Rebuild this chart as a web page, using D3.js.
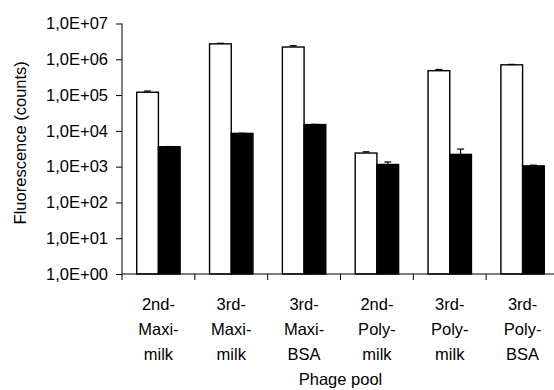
<!DOCTYPE html>
<html>
<head>
<meta charset="utf-8">
<script src="https://cdn.jsdelivr.net/npm/d3@7"></script>
<style>
	html, body { margin: 0; padding: 0; background: #fff; }
	svg { display: block; font-family: "Liberation Sans", Arial, sans-serif; }
</style>
</head>
<body>
<div id="chart"></div>
<script>
// phage pools, each label is split on three lines
var pools = [
	['2nd-', 'Maxi-', 'milk'],
	['3rd-', 'Maxi-', 'milk'],
	['3rd-', 'Maxi-', 'BSA'],
	['2nd-', 'Poly-', 'milk'],
	['3rd-', 'Poly-', 'milk'],
	['3rd-', 'Poly-', 'BSA']
];

// white bars and their upper error
var whiteValues = [1.2e5, 2.7e6, 2.2e6, 2.4e3, 4.8e5, 7.0e5];
var whiteErrors = [1.3e5, 2.8e6, 2.4e6, 2.6e3, 5.2e5, 7.2e5];

// black bars and their upper error
var blackValues = [3.6e3, 8.5e3, 1.5e4, 1.15e3, 2.2e3, 1.05e3];
var blackErrors = [3.65e3, 8.6e3, 1.52e4, 1.35e3, 3.1e3, 1.1e3];

var yTicks = [1, 1e1, 1e2, 1e3, 1e4, 1e5, 1e6, 1e7];
var yTickLabels = ['1,0E+00', '1,0E+01', '1,0E+02', '1,0E+03', '1,0E+04', '1,0E+05', '1,0E+06', '1,0E+07'];

var yTitle = 'Fluorescence (counts)',
	xTitle = 'Phage pool';

var width = 554,
	height = 390,
	plotLeft = 122,
	plotRight = 559,
	plotTop = 23.5,
	plotBottom = 274,
	barWidth = 21.7,
	fontSize = 16.5;

var keys = d3.range(pools.length);

var x = d3.scaleBand()
	.domain(keys)
	.range([plotLeft, plotRight])
	.padding(0);

var y = d3.scaleLog()
	.domain([1, 1e7])
	.range([plotBottom, plotTop]);

var svg = d3.select('#chart').append('svg')
		.attr('width', width)
		.attr('height', height);

// bars: white on the left of the band centre, black on the right
var series = [
	{ values: whiteValues, errors: whiteErrors, fill: '#fff', offset: -barWidth },
	{ values: blackValues, errors: blackErrors, fill: '#000', offset: 0 }
];

series.forEach(function(s) {
	var g = svg.append('g');

	g.selectAll('rect')
			.data(keys)
		.enter().append('rect')
			.attr('x', function(d) { return x(d) + x.bandwidth() / 2 + s.offset; })
			.attr('y', function(d) { return y(s.values[d]); })
			.attr('width', barWidth)
			.attr('height', function(d) { return plotBottom - y(s.values[d]); })
			.style('fill', s.fill)
			.style('stroke', '#000')
			.style('stroke-width', 1.4);

	var err = g.selectAll('.err')
			.data(keys)
		.enter().append('g')
			.attr('class', 'err')
			.attr('transform', function(d) {
				return 'translate(' + (x(d) + x.bandwidth() / 2 + s.offset + barWidth / 2) + ',0)';
			});

	err.append('line')
		.attr('x1', 0)
		.attr('x2', 0)
		.attr('y1', function(d) { return y(s.values[d]); })
		.attr('y2', function(d) { return y(s.errors[d]); })
		.style('stroke', '#000')
		.style('stroke-width', 1.2);

	err.append('line')
		.attr('x1', -3.5)
		.attr('x2', 3.5)
		.attr('y1', function(d) { return y(s.errors[d]); })
		.attr('y2', function(d) { return y(s.errors[d]); })
		.style('stroke', '#000')
		.style('stroke-width', 1.2);
});

// y axis
var yAxis = d3.axisLeft(y)
	.tickValues(yTicks)
	.tickSize(6)
	.tickPadding(8)
	.tickFormat(function(d, i) { return yTickLabels[i]; });

svg.append('g')
		.attr('transform', 'translate(' + plotLeft + ',0)')
		.call(yAxis)
		.call(function(g) {
			g.select('.domain').attr('d', 'M0,' + plotTop + 'V' + plotBottom).style('stroke', '#000');
			g.selectAll('.tick line').style('stroke', '#000');
			g.selectAll('text')
				.style('font-family', '"Liberation Sans", Arial, sans-serif')
				.style('font-size', fontSize + 'px')
				.style('fill', '#000');
		});

// x axis: ticks between the categories
var xAxis = d3.axisBottom(x)
	.tickSize(0)
	.tickFormat('');

var xg = svg.append('g')
		.attr('transform', 'translate(0,' + plotBottom + ')')
		.call(xAxis);

xg.select('.domain')
	.attr('d', 'M' + plotLeft + ',0H' + plotRight)
	.style('stroke', '#000');

xg.selectAll('.sep')
		.data(keys.concat([pools.length]))
	.enter().append('line')
		.attr('x1', function(d) { return d < pools.length ? x(d) : x(d - 1) + x.bandwidth(); })
		.attr('x2', function(d) { return d < pools.length ? x(d) : x(d - 1) + x.bandwidth(); })
		.attr('y1', 0)
		.attr('y2', 6)
		.style('stroke', '#000');

var labels = svg.append('g')
	.selectAll('text')
		.data(keys)
	.enter().append('text')
		.attr('text-anchor', 'middle')
		.style('font-size', fontSize + 'px')
		.attr('transform', function(d) {
			return 'translate(' + (x(d) + x.bandwidth() / 2) + ',' + (plotBottom + 36) + ')';
		});

labels.selectAll('tspan')
		.data(function(d) { return pools[d]; })
	.enter().append('tspan')
		.attr('x', 0)
		.attr('y', function(d, i) { return i * 25; })
		.text(function(d) { return d; });

// axis titles
svg.append('text')
	.attr('text-anchor', 'middle')
	.attr('x', (plotLeft + plotRight) / 2)
	.attr('y', 385)
	.style('font-size', fontSize + 'px')
	.text(xTitle);

svg.append('text')
	.attr('text-anchor', 'middle')
	.attr('transform', 'translate(26,' + ((plotTop + plotBottom) / 2 - 6) + ') rotate(-90)')
	.style('font-size', fontSize + 'px')
	.text(yTitle);
</script>
</body>
</html>
